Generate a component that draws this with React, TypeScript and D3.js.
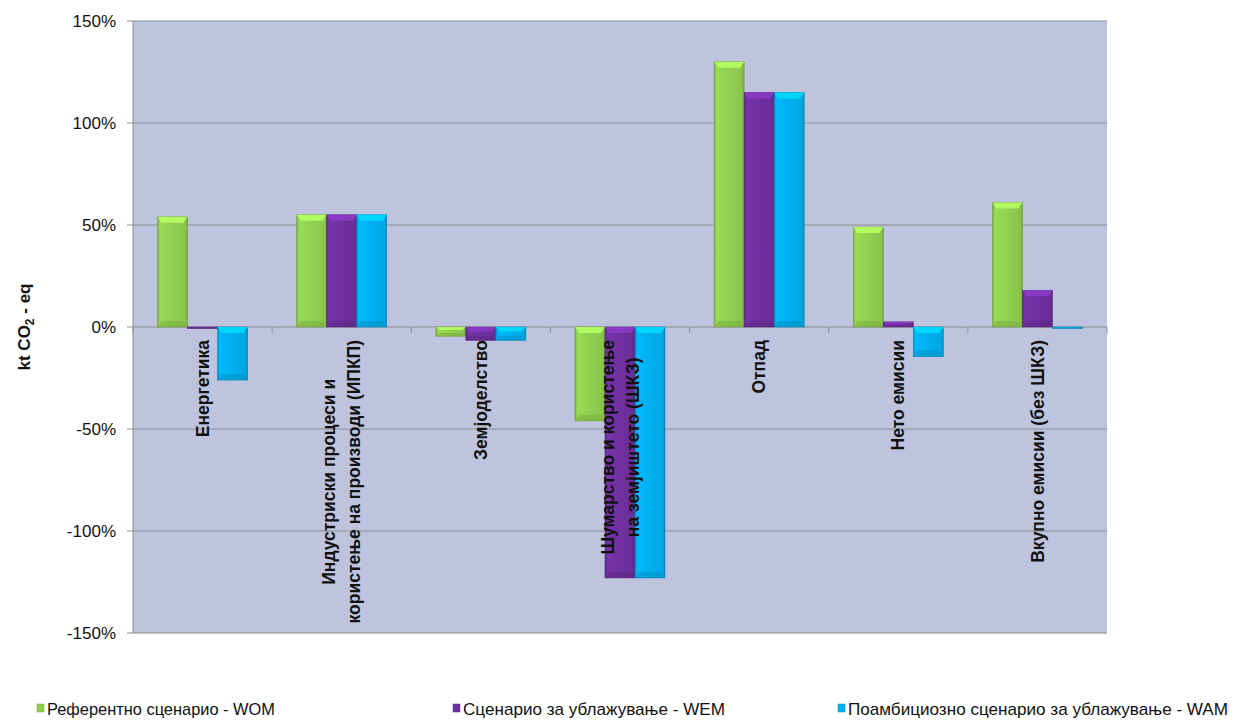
import React from "react";
import * as d3 from "d3";

const categories: string[][] = [
  ["Енергетика"],
  ["Индустриски процеси и", "користење на производи (ИПКП)"],
  ["Земјоделство"],
  ["Шумарство и користење", "на земјиштето (ШКЗ)"],
  ["Отпад"],
  ["Нето емисии"],
  ["Вкупно емисии (без ШКЗ)"],
];
const seriesNames = [
  "Референтно сценарио - WOM",
  "Сценарио за ублажување - WEM",
  "Поамбициозно сценарио за ублажување - WAM",
];
const wom = [54, 55, -4.5, -46, 130, 49, 61];
const wem = [-0.4, 55, -6.5, -123, 115, 2.5, 18];
const wam = [-26, 55, -6.5, -123, 115, -14.5, -0.6];
const yTicks = [150, 100, 50, 0, -50, -100, -150];

const colors = ["#92D050", "#7030A0", "#00B0F0"];
const W = 1235, H = 720;
const left = 133, right = 1107, top = 21, bottom = 633;

function measure(text: string, font: string): number {
  const c = document.createElement("canvas").getContext("2d");
  if (!c) return text.length * 10;
  c.font = font;
  return c.measureText(text).width;
}

export default function App() {
  const series = [wom, wem, wam];
  const x = d3.scaleBand<number>().domain(d3.range(categories.length)).range([left, right]).paddingInner(0).paddingOuter(0);
  const y = d3.scaleLinear().domain([-150, 150]).range([bottom, top]);
  const groupW = 90;
  const inner = d3.scaleBand<number>().domain([0, 1, 2]).range([0, groupW]);
  const y0 = y(0);

  const legendX = [37, 453, 838];
  const legendW = [228, 262, 380];
  const labelFont = "bold 17.5px Arial, 'Liberation Sans', sans-serif";

  return (
    <svg width={W} height={H} style={{ position: "absolute", left: 0, top: 0, background: "#fff" }} fontFamily="Arial, 'Liberation Sans', sans-serif">
      <defs>
        {colors.map((c, i) => {
          const col = d3.color(c)!;
          return (
            <linearGradient id={"g" + i} key={i} x1="0" x2="1" y1="0" y2="0">
              <stop offset="0" stopColor={col.darker(0.5).toString()} />
              <stop offset="0.08" stopColor={col.brighter(0.15).toString()} />
              <stop offset="0.5" stopColor={c} />
              <stop offset="0.92" stopColor={col.darker(0.15).toString()} />
              <stop offset="1" stopColor={col.darker(0.6).toString()} />
            </linearGradient>
          );
        })}
      </defs>
      <rect x={left} y={top} width={right - left} height={bottom - top} fill="#BEC4DE" />
      {yTicks.map((t) => (
        <g key={t}>
          <line x1={left - 6} x2={right} y1={y(t)} y2={y(t)} stroke="#8C8C8C" strokeWidth={1} />
          <text x={116} y={y(t)} dy="0.35em" textAnchor="end" fontSize={17} fill="#111">{t + "%"}</text>
        </g>
      ))}
      <line x1={left} x2={left} y1={top} y2={bottom} stroke="#8C8C8C" />
      {d3.range(categories.length + 1).map((i) => (
        <line key={i} x1={left + i * x.bandwidth()} x2={left + i * x.bandwidth()} y1={y0} y2={y0 + 6} stroke="#8C8C8C" />
      ))}
      {categories.map((_, ci) => {
        const gx = (x(ci) as number) + (x.bandwidth() - groupW) / 2;
        return series.map((s, si) => {
          const v = s[ci];
          const bx = gx + (inner(si) as number);
          const bw = inner.bandwidth();
          const yt = Math.min(y(v), y0);
          const h = Math.max(Math.abs(y(v) - y0), 1.5);
          const col = d3.color(colors[si])!;
          const cap = Math.min(6, h / 3);
          return (
            <g key={ci + "-" + si}>
              <rect x={bx} y={yt} width={bw} height={h} fill={`url(#g${si})`} stroke={col.darker(0.8).toString()} strokeWidth={0.6} />
              {h > 4 && (
                <>
                  <polygon points={`${bx},${yt} ${bx + bw},${yt} ${bx + bw - 4},${yt + cap} ${bx + 4},${yt + cap}`} fill={col.brighter(0.6).toString()} opacity={0.9} />
                  <polygon points={`${bx + 4},${yt + h - cap} ${bx + bw - 4},${yt + h - cap} ${bx + bw},${yt + h} ${bx},${yt + h}`} fill={col.darker(0.5).toString()} opacity={0.6} />
                </>
              )}
            </g>
          );
        });
      })}
      {categories.map((lines, ci) => {
        const cx = (x(ci) as number) + x.bandwidth() / 2;
        const lh = 25;
        const maxW = d3.max(lines, (l) => measure(l, labelFont)) || 0;
        return (
          <g key={ci} transform={`translate(${cx},${y0 + 13}) rotate(-90)`}>
            {lines.map((ln, li) => (
              <text key={li} x={-maxW / 2} y={(li - (lines.length - 1) / 2) * lh} dy="0.35em" textAnchor="middle" fontSize={17.5} fontWeight="bold" fill="#111">
                {ln}
              </text>
            ))}
          </g>
        );
      })}
      <text transform={`translate(30,${(top + bottom) / 2}) rotate(-90)`} textAnchor="middle" fontSize={17} fontWeight="bold" fill="#111">
        kt CO<tspan fontSize={12} dy={4}>2</tspan><tspan dy={-4}> - eq</tspan>
      </text>
      {seriesNames.map((n, i) => (
        <g key={i}>
          <rect x={legendX[i]} y={704} width={7} height={8} fill={colors[i]} stroke={d3.color(colors[i])!.darker(0.6).toString()} strokeWidth={0.5} />
          <text x={legendX[i] + 10} y={709} dy="0.35em" fontSize={17} fill="#111" textLength={legendW[i]} lengthAdjust="spacingAndGlyphs">{n}</text>
        </g>
      ))}
    </svg>
  );
}
